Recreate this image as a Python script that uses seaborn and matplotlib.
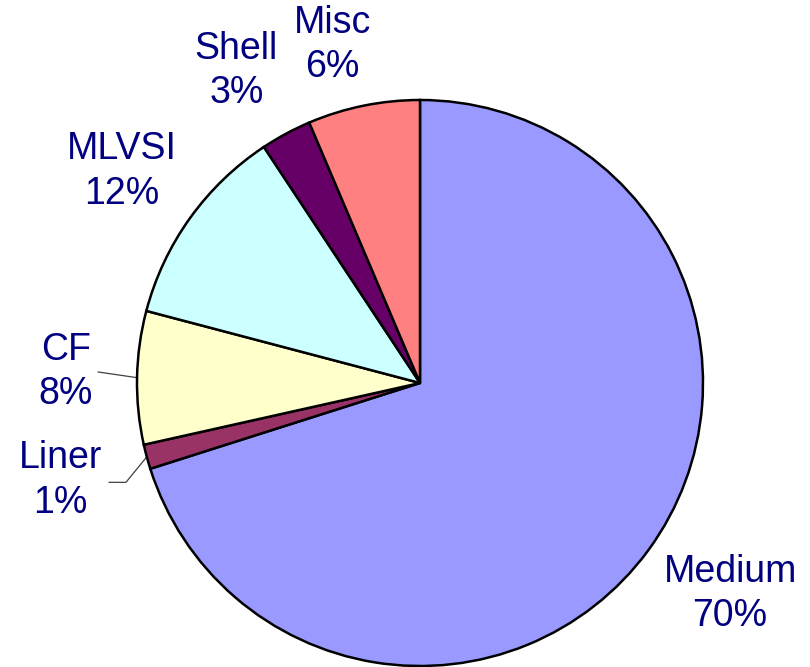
import numpy as np
import matplotlib
matplotlib.use("Agg")
import matplotlib.pyplot as plt
import seaborn as sns

sns.set_theme(style="white")
plt.rcParams['font.family'] = ['Liberation Sans', 'DejaVu Sans']

categories = ["Medium", "Liner", "CF", "MLVSI", "Shell", "Misc"]
values = [70.1, 1.4, 7.6, 11.6, 2.9, 6.4]
colors = ["#9999FF", "#993366", "#FFFFCC", "#CCFFFF", "#660066", "#FF8080"]

# label positions (layout, in units of the pie radius)
label_pos = [(1.096, -0.745), (-1.270, -0.344), (-1.252, 0.039),
             (-1.053, 0.748), (-0.649, 1.102), (-0.309, 1.195)]
leader = {"Liner": [(-1.099, -0.351), (-1.039, -0.351)],
          "CF": [(-1.138, 0.039)]}

fig = plt.figure(figsize=(8.10, 6.67), dpi=100)
ax = fig.add_axes([137 / 810, 1 / 667, 566 / 810, 566 / 667])

total = sum(values)
labels = [f"{c}\n{int(round(v / total * 100))}%" for c, v in zip(categories, values)]

wedges, texts = ax.pie(values, colors=colors, startangle=90, counterclock=False,
                       labels=labels, labeldistance=1.3,
                       wedgeprops=dict(edgecolor="black", linewidth=1.8),
                       textprops=dict(color="#000080", fontsize=27,
                                      ha="center", va="center", linespacing=1.3))
for t, p in zip(texts, label_pos):
    t.set_position(p)
    t.set_ha("center")
    t.set_va("center")
    t.set_clip_on(False)

for w, c in zip(wedges, categories):
    if c in leader:
        mid = np.deg2rad((w.theta1 + w.theta2) / 2)
        pts = leader[c] + [(np.cos(mid), np.sin(mid))]
        xs, ys = zip(*pts)
        ax.plot(xs, ys, color="#404040", lw=0.9, clip_on=False, zorder=0.5)

ax.set_xlim(-1, 1)
ax.set_ylim(-1, 1)
ax.set_aspect("equal")
ax.axis("off")

fig.savefig("out.png", dpi=100)
